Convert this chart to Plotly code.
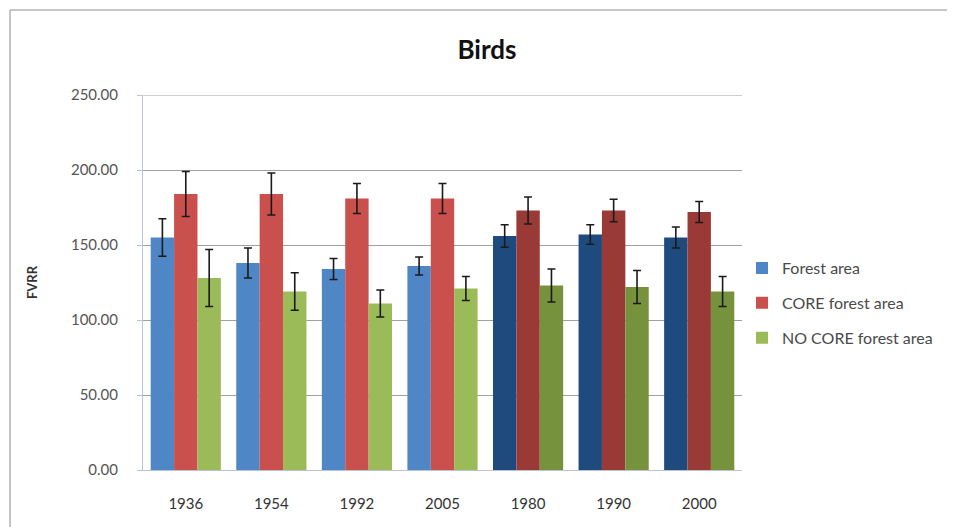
import plotly.graph_objects as go

# Categories and values
years = ["1936", "1954", "1992", "2005", "1980", "1990", "2000"]

forest = [155, 138, 134, 136, 156, 157, 155]
forest_err = [12.5, 10, 7, 6, 7.5, 6.5, 7]

core = [184, 184, 181, 181, 173, 173, 172]
core_err = [15, 14, 10, 10, 9, 7.5, 7]

nocore = [128, 119, 111, 121, 123, 122, 119]
nocore_err = [19, 12.5, 9, 8, 11, 11, 10]

y_max = 250

# first four groups light, last three dark
light = {"forest": "#4f86c6", "core": "#c9504d", "nocore": "#9bbb59"}
dark = {"forest": "#1f4a7e", "core": "#9a3a37", "nocore": "#76923c"}
n_light = 4


def bar_colors(key):
    return [light[key] if i < n_light else dark[key] for i in range(len(years))]


series = [
    ("Forest area", forest, forest_err, "forest"),
    ("CORE forest area", core, core_err, "core"),
    ("NO CORE forest area", nocore, nocore_err, "nocore"),
]

fig = go.Figure()
for name, vals, errs, key in series:
    fig.add_trace(go.Bar(
        x=years,
        y=vals,
        name=name,
        legendgroup=key,
        marker=dict(color=bar_colors(key), line=dict(width=0)),
        error_y=dict(type="data", array=errs, color="#1a1a1a", thickness=1.6, width=4),
    ))

# page has an 8px body margin, so figure pixels = screen pixels - 8
fig.update_layout(
    width=955,
    height=527,
    barmode="group",
    bargap=0.18,
    bargroupgap=0,
    paper_bgcolor="white",
    plot_bgcolor="white",
    font=dict(family="Lato, Open Sans, sans-serif", color="#404040"),
    margin=dict(l=135, r=221, t=87, b=65),
    title=dict(
        text="<b>Birds</b>",
        x=479 / 955,
        xanchor="center",
        y=1 - 42 / 527,
        yanchor="middle",
        font=dict(size=26, color="#111111"),
    ),
    legend=dict(
        x=1.0,
        y=0.445,
        xanchor="left",
        yanchor="middle",
        font=dict(size=16, color="#4a4a4a"),
        traceorder="grouped",
        tracegroupgap=11,
        itemwidth=30,
    ),
    xaxis=dict(
        showline=True,
        linecolor="#b8c4d4",
        linewidth=1,
        ticks="",
        tickfont=dict(size=15, color="#333333"),
        ticklabelstandoff=20,
        automargin=False,
    ),
    yaxis=dict(
        range=[0, y_max],
        dtick=50,
        tickformat=".2f",
        showgrid=True,
        gridcolor="#a0a0a0",
        gridwidth=1,
        showline=True,
        linecolor="#b8c4d4",
        linewidth=1,
        ticks="outside",
        ticklen=5,
        tickcolor="#b8c4d4",
        tickfont=dict(size=15, color="#555555"),
        ticklabelstandoff=16,
        zeroline=False,
        automargin=False,
        title=dict(text="<b>FVRR</b>", font=dict(size=13, color="#333333"), standoff=30),
    ),
)

# top gridline at the axis maximum
fig.add_shape(type="line", xref="paper", yref="y", layer="below",
              x0=0, x1=1, y0=y_max, y1=y_max,
              line=dict(color="#a0a0a0", width=1))

# outer chart frame (top and left edges)
fx = (2 - 135) / 599
fy = (462 - 2) / 375
fig.add_shape(type="line", xref="paper", yref="paper",
              x0=fx, x1=1.4, y0=fy, y1=fy,
              line=dict(color="#8c8c8c", width=1))
fig.add_shape(type="line", xref="paper", yref="paper",
              x0=fx, x1=fx, y0=fy, y1=-0.2,
              line=dict(color="#8c8c8c", width=1))

fig.write_html("out.html")
